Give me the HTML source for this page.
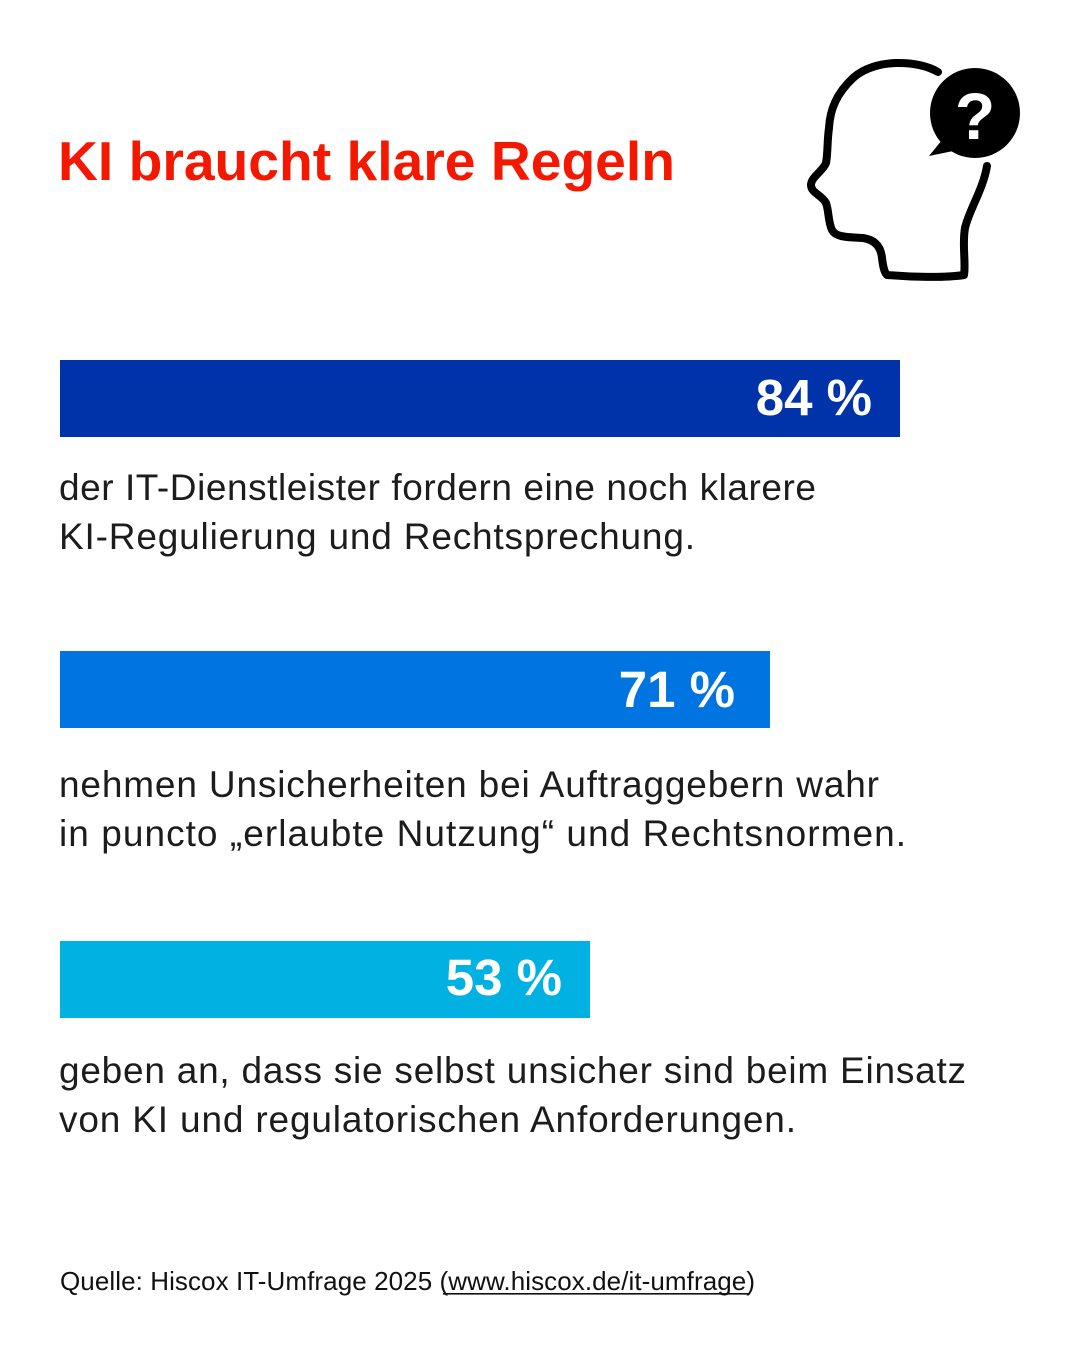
<!DOCTYPE html>
<html>
<head>
<meta charset="utf-8">
<style>
  html, body { margin: 0; padding: 0; background: #ffffff; }
  body { width: 1080px; height: 1350px; overflow: hidden; }
  svg { display: block; }
  .t { font-family: "Liberation Sans", Arial, sans-serif; }
</style>
</head>
<body>
<svg width="1080" height="1350" viewBox="0 0 1080 1350" xmlns="http://www.w3.org/2000/svg">
  <rect x="0" y="0" width="1080" height="1350" fill="#ffffff"/>

  <!-- Title -->
  <text class="t" x="58" y="180" font-size="55" font-weight="bold" fill="#f51800" textLength="617" lengthAdjust="spacingAndGlyphs">KI braucht klare Regeln</text>

  <!-- Head icon -->
  <g fill="none" stroke="#000" stroke-width="8" stroke-linecap="round" stroke-linejoin="round">
    <path d="M 938 72
             C 918 60, 875 58, 853 78
             C 836 94, 830 110, 829 128
             C 827 142, 828 152, 826 163
             C 823 171, 811 177, 811 185
             C 811 193, 822 195, 826 203
             C 829 211, 828 222, 832 230
             C 836 238, 850 237, 863 238
             C 876 240, 881 248, 882 258
             C 883 266, 884 272, 887 275
             C 910 277, 945 278, 964 275
             C 966 262, 962 245, 965 228
             C 969 210, 983 190, 987 166"/>
  </g>
  <!-- Speech bubble -->
  <circle cx="975" cy="113" r="45" fill="#000"/>
  <path d="M 942 140 L 929 156 L 958 150 Z" fill="#000"/>
  <text class="t" x="975" y="139" font-size="66" font-weight="bold" fill="#fff" text-anchor="middle">?</text>

  <!-- Bar 1 -->
  <rect x="60" y="360" width="840" height="77" fill="#0033aa"/>
  <text class="t" x="872" y="415" font-size="51" font-weight="bold" fill="#fff" text-anchor="end">84 %</text>
  <g class="t" font-size="37" fill="#1c1c1c">
    <text x="59" y="500" textLength="757" lengthAdjust="spacing">der IT-Dienstleister fordern eine noch klarere</text>
    <text x="59" y="549" textLength="636" lengthAdjust="spacing">KI-Regulierung und Rechtsprechung.</text>
  </g>

  <!-- Bar 2 -->
  <rect x="60" y="651" width="710" height="77" fill="#0074e0"/>
  <text class="t" x="735" y="707" font-size="51" font-weight="bold" fill="#fff" text-anchor="end">71 %</text>
  <g class="t" font-size="37" fill="#1c1c1c">
    <text x="59" y="797" textLength="820" lengthAdjust="spacing">nehmen Unsicherheiten bei Auftraggebern wahr</text>
    <text x="59" y="846" textLength="847" lengthAdjust="spacing">in puncto „erlaubte Nutzung“ und Rechtsnormen.</text>
  </g>

  <!-- Bar 3 -->
  <rect x="60" y="941" width="530" height="77" fill="#00b1e1"/>
  <text class="t" x="562" y="995" font-size="51" font-weight="bold" fill="#fff" text-anchor="end">53 %</text>
  <g class="t" font-size="37" fill="#1c1c1c">
    <text x="59" y="1083" textLength="907" lengthAdjust="spacing">geben an, dass sie selbst unsicher sind beim Einsatz</text>
    <text x="59" y="1132" textLength="737" lengthAdjust="spacing">von KI und regulatorischen Anforderungen.</text>
  </g>

  <!-- Footer -->
  <text class="t" x="60" y="1290" font-size="26" fill="#111" textLength="695" lengthAdjust="spacing">Quelle: Hiscox IT-Umfrage 2025 (www.hiscox.de/it-umfrage)</text>
  <rect x="443" y="1293" width="306" height="1.6" fill="#111"/>
</svg>
</body>
</html>
